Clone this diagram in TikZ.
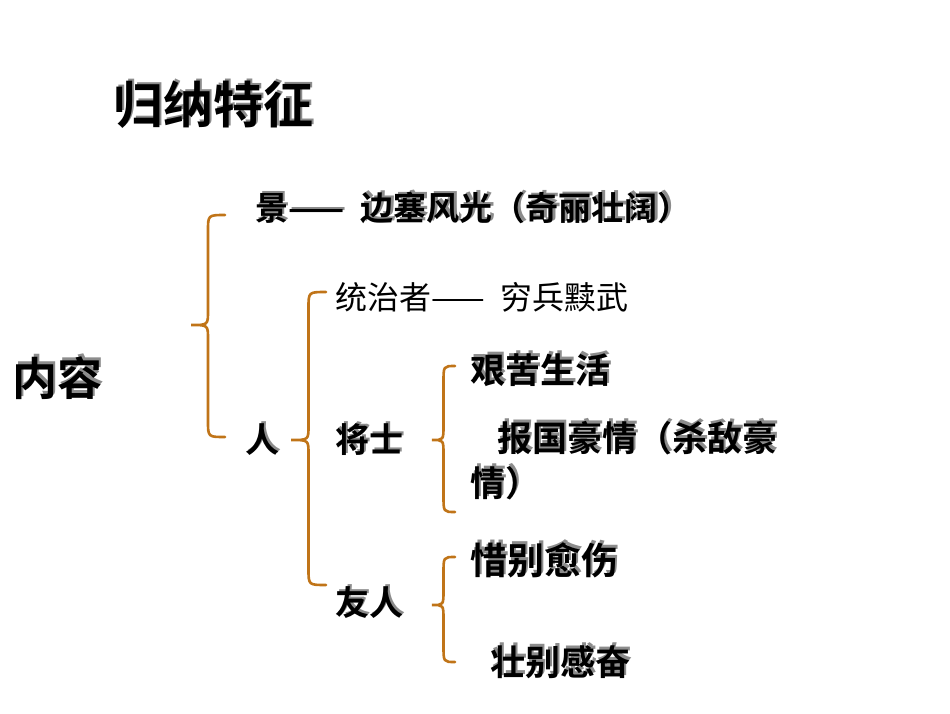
\documentclass[tikz,border=0pt]{standalone}
\usepackage{fontspec}
\setmainfont{Noto Sans CJK SC}
\newfontfamily\cjkb{Noto Sans CJK SC Bold}
\definecolor{br}{HTML}{C07418}
\newcommand\shtx[5]{% name, x, y, size, text
  \node[anchor=west,inner sep=0pt,text=black!45] at (#2+2.5,#3-2.5) {\fontsize{#4}{#4}\cjkb #5};
  \node[anchor=west,inner sep=0pt] (#1) at (#2,#3) {\fontsize{#4}{#4}\cjkb #5};}
\newcommand\brc[5]{% tipx, endx, ytop, ymid, ybot
  \draw[br,line width=2.6pt,line cap=round]
   (#2,#3) .. controls ({(#1+#2)/2},#3) .. ({(#1+#2)/2},#3+16) -- ({(#1+#2)/2},#4-14)
   .. controls ({(#1+#2)/2},#4) .. (#1,#4) .. controls ({(#1+#2)/2},#4) .. ({(#1+#2)/2},#4+14)
   -- ({(#1+#2)/2},#5-16) .. controls ({(#1+#2)/2},#5) .. (#2,#5);}
\begin{document}
\begin{tikzpicture}[x=1pt,y=-1pt]
\useasboundingbox (0,0) rectangle (950,713);
\shtx{title}{113}{105}{50}{归纳特征}
\shtx{jing}{255}{208}{33}{景——\,\,\,边塞风光（奇丽壮阔）}
\node[anchor=west,inner sep=0pt] (tz) at (335,297) {\fontsize{32}{32}\selectfont 统治者——\,\,\,穷兵黩武};
\shtx{nr}{12}{378}{45}{内容}
\shtx{ren}{245}{440}{34}{人}
\shtx{js}{335}{440}{34}{将士}
\shtx{jk}{470}{370}{35}{艰苦生活}
\shtx{bg}{497}{438}{35}{报国豪情（杀敌豪}
\shtx{bg2}{470}{483}{35}{情）}
\shtx{xb}{470}{560}{37}{惜别愈伤}
\shtx{yr}{335}{603}{34}{友人}
\shtx{zb}{490}{662}{35}{壮别感奋}
\brc{191}{225}{215}{325}{437}
\brc{291}{326}{292}{440}{585}
\brc{432}{455}{366}{440}{512}
\brc{432}{455}{557}{605}{662}
\end{tikzpicture}
\end{document}
